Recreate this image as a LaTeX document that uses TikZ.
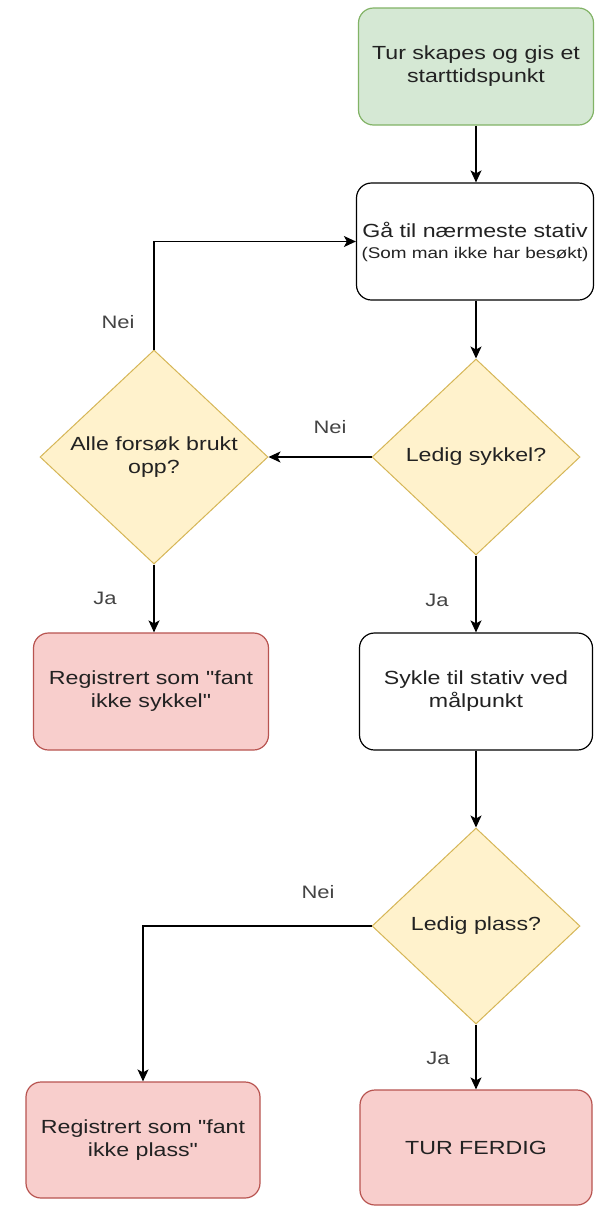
\documentclass[tikz,border=0pt]{standalone}
\usepackage{fontspec}
\setmainfont{Liberation Sans}
\newfontfamily\df[FakeStretch=1.22]{Liberation Sans}
\usetikzlibrary{shapes.geometric,arrows.meta}
\definecolor{gfill}{HTML}{D5E8D4}
\definecolor{gdraw}{HTML}{82B366}
\definecolor{yfill}{HTML}{FFF2CC}
\definecolor{ydraw}{HTML}{D6B656}
\definecolor{rfill}{HTML}{F8CECC}
\definecolor{rdraw}{HTML}{B85450}
\definecolor{txt}{HTML}{222222}
\definecolor{lbltxt}{HTML}{444444}
\begin{document}
\begin{tikzpicture}[x=1pt,y=-1pt,
  base/.style={font=\df\fontsize{19}{23}\selectfont, text=txt, align=center, line width=1.2pt, inner sep=0pt},
  box/.style={base, rectangle, rounded corners=15pt, draw=black, fill=white, minimum height=117pt},
  gbox/.style={box, draw=gdraw, fill=gfill},
  rbox/.style={box, draw=rdraw, fill=rfill},
  dec/.style={base, diamond, draw=ydraw, fill=yfill, line width=1pt},
  conn/.style={line width=1.3pt, -{Stealth[length=12pt,width=11pt,inset=3pt]}},
  lbl/.style={font=\df\fontsize{18}{20}\selectfont, text=lbltxt, inner sep=0pt}
]
\useasboundingbox[fill=white] (0,0) rectangle (595,1208);

\node[gbox, minimum width=235pt] (start) at (476,66.5) {Tur skapes og gis et\\starttidspunkt};
\node[box, minimum width=237pt] (goto) at (475,241.5) {Gå til nærmeste stativ\\[-2pt]{\fontsize{15.5}{18}\selectfont (Som man ikke har besøkt)}};
\node[dec, minimum width=208pt, minimum height=196pt] (sykkel) at (476,457) {Ledig sykkel?};
\node[dec, minimum width=228pt, minimum height=214pt] (alle) at (154,457) {Alle forsøk brukt\\opp?};
\node[rbox, minimum width=235pt] (regs) at (151,691.5) {Registrert som "fant\\ikke sykkel"};
\node[box, minimum width=233pt] (sykle) at (476,691.5) {Sykle til stativ ved\\målpunkt};
\node[dec, minimum width=208pt, minimum height=196pt] (plass) at (476,926) {Ledig plass?};
\node[rbox, minimum width=234pt, minimum height=116pt] (regp) at (143,1140) {Registrert som "fant\\ikke plass"};
\node[rbox, minimum width=232pt, minimum height=115pt] (tur) at (476,1147.5) {TUR FERDIG};

\draw[conn] (sykkel.north |- start.south) -- (sykkel.north |- goto.north);
\draw[conn] (sykkel.north |- goto.south) -- (sykkel.north);
\draw[conn] (sykkel.west) -- (alle.east);
\draw[conn] (sykkel.south) -- (sykle.north);
\draw[conn] (alle.north) -- (alle.north |- goto.west) -- (goto.west);
\draw[conn] (alle.south) -- (alle.south |- regs.north);
\draw[conn] (sykle.south) -- (plass.north);
\draw[conn] (plass.west) -| (regp.north);
\draw[conn] (plass.south) -- (tur.north);

\node[lbl] (n1) at (118,322) {Nei};
\node[lbl] (n2) at (330,427) {Nei};
\node[lbl] (j1) at (105,598) {Ja};
\node[lbl] (j2) at (437,600) {Ja};
\node[lbl] (n3) at (318,892) {Nei};
\node[lbl] (j3) at (438,1058) {Ja};
\end{tikzpicture}
\end{document}
